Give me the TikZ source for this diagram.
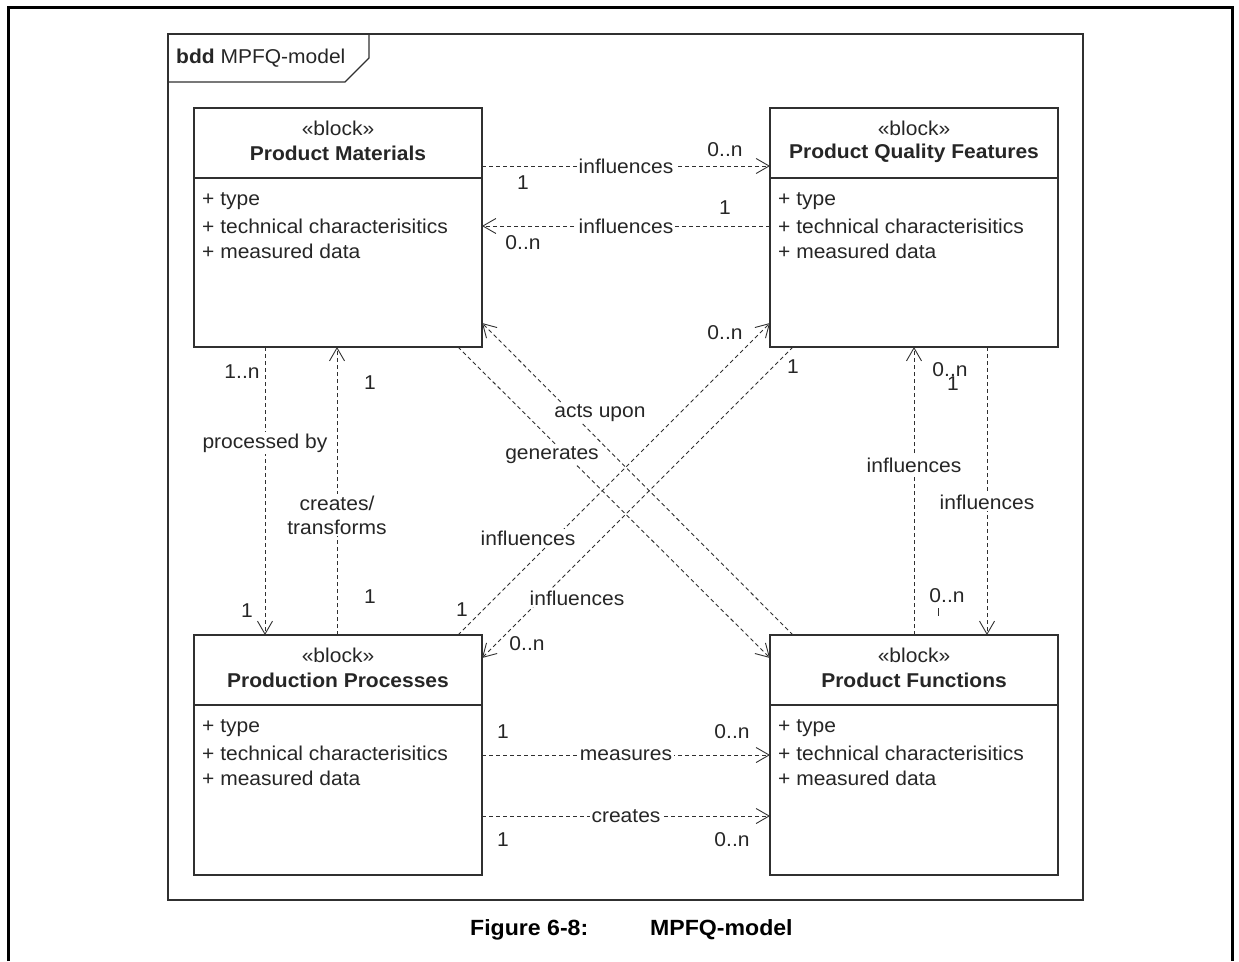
\documentclass[tikz,border=0pt]{standalone}
\usepackage{fontspec}
\setmainfont{Liberation Sans}[FakeStretch=1.05]
\usetikzlibrary{arrows.meta}
\definecolor{ink}{HTML}{262626}
\definecolor{edge}{HTML}{303030}

% one SysML block: name, centre x, top y, title
\newcommand\mkblock[4]{%
  \draw[edge, line width=1.3pt] ([yshift=-70pt]#1.north west) -- ([yshift=-70pt]#1.north east);
  \node[txt] (#1-st) at ({#2},{#3+20}) {«block»};
  \node[ttl] (#1-nm) at ({#2},{#3+45}) {#4};
  \node[txt, anchor=west] (#1-a1) at ({#2-137},{#3+93}) {+ type};
  \node[txt, anchor=west] (#1-a2) at ({#2-137},{#3+118}) {+ technical characterisitics};
  \node[txt, anchor=west] (#1-a3) at ({#2-137},{#3+143}) {+ measured data};
}

\begin{document}
\begin{tikzpicture}[x=1pt, y=-1pt,
  txt/.style={font=\fontsize{20}{24}\selectfont, text=ink, inner sep=1pt},
  ttl/.style={txt, font=\fontsize{20}{24}\selectfont\bfseries},
  block/.style={draw=edge, line width=1.6pt, minimum width=288pt, inner sep=0pt, outer sep=0pt},
  dep/.style={draw=edge, line width=0.9pt, dash pattern=on 4pt off 3pt,
    -{Straight Barb[length=13pt, width=15pt]}},
  onlbl/.style={txt, fill=white, inner sep=1.5pt},
  mult/.style={txt, inner sep=0pt}]

\useasboundingbox (0,0) rectangle (1239,961);

% page border
\draw[black, line width=3pt] (8,961) -- (8,7.5) -- (1232,7.5) -- (1232,961);

% diagram frame and its name tab
\draw[edge, line width=1.3pt] (168,34) rectangle (1083,900);
\draw[edge, line width=1.3pt] (168,82) -- (345,82) -- (369,58) -- (369,34);
\node[txt, anchor=west] (frame-name) at (175,58) {\textbf{bdd} MPFQ-model};

% blocks
\node[block, minimum height=239pt] (pm)  at (338,227.5) {};
\node[block, minimum height=239pt] (pqf) at (914,227.5) {};
\node[block, minimum height=240pt] (pp)  at (338,755) {};
\node[block, minimum height=240pt] (pf)  at (914,755) {};

\mkblock{pm}{338}{108}{Product Materials}
\mkblock{pqf}{914}{108}{Product Quality Features}
\mkblock{pp}{338}{635}{Production Processes}
\mkblock{pf}{914}{635}{Product Functions}

% materials <-> quality features
\draw[dep] ([yshift=-58pt]pm.north east) -- node[onlbl] (l-mq) {influences} ([yshift=-58pt]pqf.north west);
\draw[dep] ([yshift=-118pt]pqf.north west) -- node[onlbl] (l-qm) {influences} ([yshift=-118pt]pm.north east);
\node[mult] (m-mq1) at (725,150) {0..n};
\node[mult] (m-mq2) at (523,183) {1};
\node[mult] (m-qm1) at (725,208) {1};
\node[mult] (m-qm2) at (523,243) {0..n};

% materials <-> processes
\draw[dep] ([xshift=71pt]pm.south west) -- node[onlbl, pos=0.333] (l-mp) {processed by} ([xshift=71pt]pp.north west);
\draw[dep] ([xshift=143pt]pp.north west) -- node[onlbl, pos=0.417, align=center] (l-pm) {creates/\\transforms} ([xshift=143pt]pm.south west);
\node[mult] (m-mp1) at (242,372) {1..n};
\node[mult] (m-pm1) at (370,383) {1};
\node[mult] (m-pm2) at (370,597) {1};
\node[mult] (m-mp2) at (247,611) {1};

% quality features <-> functions
\draw[dep] (pf.north) -- node[onlbl, pos=0.59] (l-fq) {influences} (pqf.south);
\draw[dep] ([xshift=217pt]pqf.south west) -- node[onlbl, pos=0.538] (l-qf) {influences} ([xshift=217pt]pf.north west);
\node[mult] (m-fq1) at (950,370) {0..n};
\node[mult] (m-qf1) at (953,384) {1};
\node[mult] (m-fq2) at (947,596) {0..n};
\draw[edge, line width=1pt] (938,608) -- (938,616);

% crossing dependencies
\draw[dep] ([xshift=264pt]pm.south west) -- ([yshift=-23pt]pf.north west);
\draw[dep] ([xshift=23pt]pf.north west) -- ([yshift=24pt]pm.south east);
\draw[dep] ([xshift=264pt]pp.north west) -- ([yshift=24pt]pqf.south west);
\draw[dep] ([xshift=23pt]pqf.south west) -- ([yshift=-23pt]pp.north east);
\node[onlbl] (l-acts) at (600,413) {acts upon};
\node[onlbl] (l-gen) at (552,455) {generates};
\node[onlbl] (l-pq) at (528,538) {influences};
\node[onlbl] (l-qp) at (577,598) {influences};
\node[mult] (m-pq1) at (725,333) {0..n};
\node[mult] (m-qp1) at (793,367) {1};
\node[mult] (m-pq2) at (462,610) {1};
\node[mult] (m-qp2) at (527,644) {0..n};

% processes -> functions
\draw[dep] ([yshift=-120pt]pp.north east) -- node[onlbl] (l-meas) {measures} ([yshift=-120pt]pf.north west);
\draw[dep] ([yshift=-181pt]pp.north east) -- node[onlbl] (l-cre) {creates} ([yshift=-181pt]pf.north west);
\node[mult] (m-me1) at (503,732) {1};
\node[mult] (m-me2) at (732,732) {0..n};
\node[mult] (m-cr1) at (503,840) {1};
\node[mult] (m-cr2) at (732,840) {0..n};

% caption
\node[font=\fontsize{22}{26}\selectfont\bfseries, anchor=west, inner sep=0pt] (cap-num) at (470,930) {Figure 6-8:};
\node[font=\fontsize{22}{26}\selectfont\bfseries, anchor=west, inner sep=0pt] (cap-txt) at (650,930) {MPFQ-model};
\end{tikzpicture}
\end{document}
